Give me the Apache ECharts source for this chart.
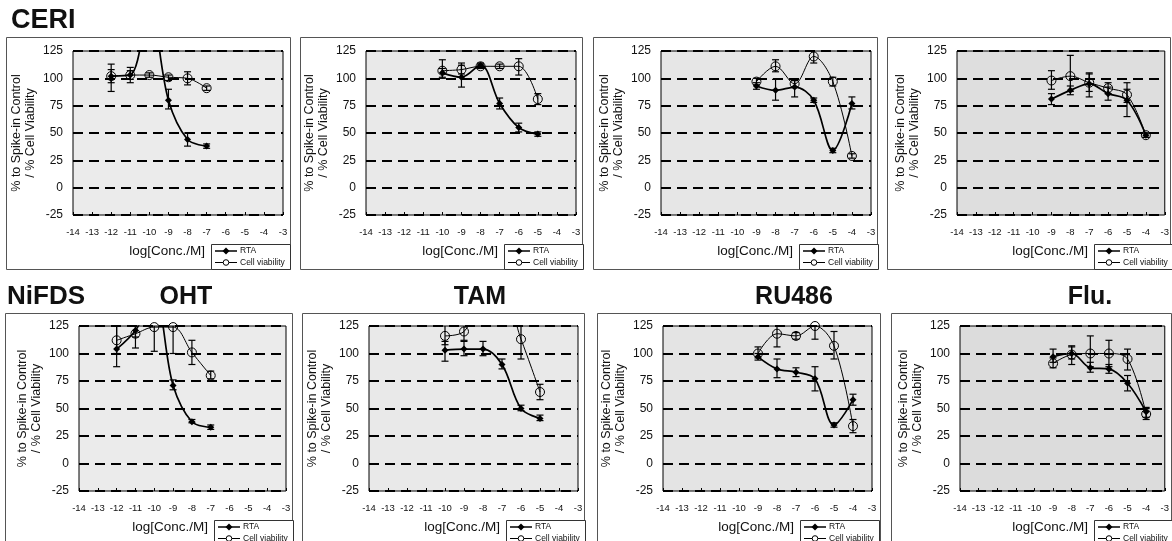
<!DOCTYPE html>
<html><head><meta charset="utf-8">
<script src="https://cdn.jsdelivr.net/npm/echarts@6/dist/echarts.min.js"></script>
<style>html,body{margin:0;padding:0;background:#fff}#c{width:1172px;height:541px}</style>
</head><body><div id="c"></div>
<script>
// ---------- DATA ----------
const xTicks = [-14, -3]; // axis range log[Conc./M]
const yTicks = [-25, 125];

// CERI - OHT
const ceriOhtConc = [-12, -11, -10, -9, -8, -7];
const ceriOhtRta = [102, 103, 165, 80, 44, 38];
const ceriOhtRtaLow = [88, 99, null, 72, 38, 36];
const ceriOhtRtaHigh = [113, 107, null, 90, 50, 40];
const ceriOhtCv = [102, 103, 103, 101, 100, 91];
const ceriOhtCvLow = [96, 96, 101, 98, 94, 89];
const ceriOhtCvHigh = [108, 110, 105, 103, 106, 93];

// CERI - TAM
const ceriTamConc = [-10, -9, -8, -7, -6, -5];
const ceriTamRta = [105, 101, 112, 77, 55, 49];
const ceriTamRtaLow = [101, 92, 110, 72, 51, 47];
const ceriTamRtaHigh = [109, 114, 114, 82, 59, 51];
const ceriTamCv = [107, 108, 111, 111, 111, 81];
const ceriTamCvLow = [100, 104, 109, 109, 103, 76];
const ceriTamCvHigh = [117, 112, 113, 113, 118, 86];

// CERI - RU486
const ceriRuConc = [-9, -8, -7, -6, -5, -4];
const ceriRuRta = [93, 89, 92, 80, 34, 77];
const ceriRuRtaLow = [90, 80, 83, 78, 32, 72];
const ceriRuRtaHigh = [96, 99, 98, 82, 36, 83];
const ceriRuCv = [97, 111, 95, 120, 97, 29];
const ceriRuCvLow = [94, 106, 92, 114, 93, 27];
const ceriRuCvHigh = [100, 117, 98, 126, 101, 31];

// CERI - Flu.
const ceriFluConc = [-9, -8, -7, -6, -5, -4];
const ceriFluRta = [81, 89, 95, 86, 80, 48];
const ceriFluRtaLow = [76, 85, 83, 80, 65, 46];
const ceriFluRtaHigh = [86, 93, 105, 92, 90, 50];
const ceriFluCv = [98, 102, 96, 91, 85, 48];
const ceriFluCvLow = [90, 88, 88, 86, 78, 46];
const ceriFluCvHigh = [107, 121, 104, 96, 96, 50];

// NiFDS - OHT
const nifOhtConc = [-12, -11, -10, -9, -8, -7];
const nifOhtRta = [104, 121, 150, 71, 38, 33];
const nifOhtRtaLow = [88, 115, null, 67, 37, 31];
const nifOhtRtaHigh = [125, 127, null, 76, 40, 35];
const nifOhtCv = [112, 118, 124, 124, 101, 80];
const nifOhtCvLow = [100, 105, 102, 100, 90, 77];
const nifOhtCvHigh = [125, 128, 146, 148, 112, 84];

// NiFDS - TAM
const nifTamConc = [-10, -9, -8, -7, -6, -5];
const nifTamRta = [103, 104, 104, 90, 50, 41];
const nifTamRtaLow = [93, 98, 98, 86, 48, 39];
const nifTamRtaHigh = [111, 111, 111, 95, 53, 44];
const nifTamCv = [116, 120, 150, 155, 113, 65];
const nifTamCvLow = [108, 112, null, null, 95, 58];
const nifTamCvHigh = [127, 128, null, null, 130, 72];

// NiFDS - RU486
const nifRuConc = [-9, -8, -7, -6, -5, -4];
const nifRuRta = [97, 86, 83, 77, 35, 58];
const nifRuRtaLow = [94, 78, 79, 66, 33, 53];
const nifRuRtaHigh = [100, 95, 87, 88, 37, 63];
const nifRuCv = [100, 118, 116, 125, 107, 34];
const nifRuCvLow = [96, 106, 113, 113, 95, 28];
const nifRuCvHigh = [106, 128, 119, 135, 120, 40];

// NiFDS - Flu.
const nifFluConc = [-9, -8, -7, -6, -5, -4];
const nifFluRta = [97, 100, 87, 86, 73, 47];
const nifFluRtaLow = [92, 95, 83, 82, 66, 42];
const nifFluRtaHigh = [104, 107, 92, 90, 80, 51];
const nifFluCv = [91, 99, 100, 100, 95, 45];
const nifFluCvLow = [87, 90, 88, 88, 85, 40];
const nifFluCvHigh = [96, 106, 116, 112, 104, 50];

const groupLabels = ['CERI', 'NiFDS'];
const compoundLabels = ['OHT', 'TAM', 'RU486', 'Flu.'];
const seriesNames = ['RTA', 'Cell viability'];
const xAxisTitle = 'log[Conc./M]';
const yAxisTitle = '% to Spike-in Control\n/ % Cell Viability';

// ---------- LAYOUT ----------
const FONT = 'Liberation Sans, Arial, sans-serif';
const panels = [
  {d:[ceriOhtConc, ceriOhtRta, ceriOhtRtaLow, ceriOhtRtaHigh, ceriOhtCv, ceriOhtCvLow, ceriOhtCvHigh], g:[73,51,283,215], box:[6,37,290,269], bg:'#ebebeb'},
  {d:[ceriTamConc, ceriTamRta, ceriTamRtaLow, ceriTamRtaHigh, ceriTamCv, ceriTamCvLow, ceriTamCvHigh], g:[366,51,576,215], box:[300,37,582,269], bg:'#e9e9e9'},
  {d:[ceriRuConc, ceriRuRta, ceriRuRtaLow, ceriRuRtaHigh, ceriRuCv, ceriRuCvLow, ceriRuCvHigh], g:[661,51,871,215], box:[593,37,877,269], bg:'#e6e6e6'},
  {d:[ceriFluConc, ceriFluRta, ceriFluRtaLow, ceriFluRtaHigh, ceriFluCv, ceriFluCvLow, ceriFluCvHigh], g:[957,51,1166,215], box:[887,37,1170,269], bg:'#dedede'},
  {d:[nifOhtConc, nifOhtRta, nifOhtRtaLow, nifOhtRtaHigh, nifOhtCv, nifOhtCvLow, nifOhtCvHigh], g:[79,326,286,491], box:[5,313,292,545], bg:'#ebebeb'},
  {d:[nifTamConc, nifTamRta, nifTamRtaLow, nifTamRtaHigh, nifTamCv, nifTamCvLow, nifTamCvHigh], g:[369,326,578,491], box:[302,313,584,545], bg:'#e9e9e9'},
  {d:[nifRuConc, nifRuRta, nifRuRtaLow, nifRuRtaHigh, nifRuCv, nifRuCvLow, nifRuCvHigh], g:[663,326,872,491], box:[597,313,880,545], bg:'#e4e4e4'},
  {d:[nifFluConc, nifFluRta, nifFluRtaLow, nifFluRtaHigh, nifFluCv, nifFluCvLow, nifFluCvHigh], g:[960,326,1166,491], box:[891,313,1171,545], bg:'#dcdcdc'}
];

const grids = [], xAxes = [], yAxes = [], series = [], graphics = [];

function errData(conc, lo, hi) {
  const out = [];
  conc.forEach((x, k) => { if (lo[k] != null && hi[k] != null) out.push([x, lo[k], hi[k]]); });
  return out;
}
function errRender(params, api) {
  const x = api.value(0);
  const a = api.coord([x, api.value(1)]);
  const b = api.coord([x, api.value(2)]);
  const w = 3.5;
  const st = {stroke:'#000', lineWidth:1.2};
  return {type:'group', children:[
    {type:'line', shape:{x1:a[0], y1:a[1], x2:b[0], y2:b[1]}, style:st},
    {type:'line', shape:{x1:a[0]-w, y1:a[1], x2:a[0]+w, y2:a[1]}, style:st},
    {type:'line', shape:{x1:b[0]-w, y1:b[1], x2:b[0]+w, y2:b[1]}, style:st}
  ]};
}

panels.forEach((p, i) => {
  const [conc, rta, rlo, rhi, cv, clo, chi] = p.d;
  grids.push({left:p.g[0], top:p.g[1], width:p.g[2]-p.g[0], height:p.g[3]-p.g[1],
    show:true, backgroundColor:p.bg, borderColor:'#000', borderWidth:1});
  xAxes.push({type:'value', gridIndex:i, min:xTicks[0], max:xTicks[1], interval:1, position:'bottom',
    axisLine:{show:false, onZero:false}, axisTick:{show:true, inside:true, length:3, lineStyle:{color:'#000'}},
    axisLabel:{fontSize:9.5, color:'#111', margin:12, fontFamily:FONT, showMinLabel:true, showMaxLabel:true},
    splitLine:{show:false}});
  yAxes.push({type:'value', gridIndex:i, min:yTicks[0], max:yTicks[1], interval:25,
    axisLine:{show:false, onZero:false}, axisTick:{show:false},
    axisLabel:{fontSize:12, color:'#111', margin:10, fontFamily:FONT},
    splitLine:{show:true, lineStyle:{color:'#000', type:[10,6], width:1.8}},
    name:yAxisTitle, nameLocation:'middle', nameRotate:90, nameGap:35,
    nameTextStyle:{fontSize:12.5, color:'#111', fontFamily:FONT, lineHeight:14}});
  series.push({type:'line', name:seriesNames[0], xAxisIndex:i, yAxisIndex:i,
    data:conc.map((x,k)=>[x, rta[k]]), smooth:0.35, clip:true,
    symbol:'diamond', symbolSize:7, itemStyle:{color:'#000'},
    lineStyle:{color:'#000', width:1.7}, z:4, animation:false});
  series.push({type:'line', name:seriesNames[1], xAxisIndex:i, yAxisIndex:i,
    data:conc.map((x,k)=>[x, cv[k]]), smooth:0.35, clip:true,
    symbol:'circle', symbolSize:9, itemStyle:{color:'rgba(0,0,0,0)', borderColor:'#000', borderWidth:1},
    lineStyle:{color:'#000', width:1}, z:4, animation:false});
  series.push({type:'custom', xAxisIndex:i, yAxisIndex:i, clip:true, z:3,
    data:errData(conc, rlo, rhi), renderItem:errRender, animation:false, silent:true});
  series.push({type:'custom', xAxisIndex:i, yAxisIndex:i, clip:true, z:3,
    data:errData(conc, clo, chi), renderItem:errRender, animation:false, silent:true});

  // outer panel frame
  graphics.push({type:'rect', z:-10, shape:{x:p.box[0]+0.5, y:p.box[1]+0.5, width:p.box[2]-p.box[0], height:p.box[3]-p.box[1]},
    style:{fill:'none', stroke:'#555', lineWidth:1}});
  // legend box
  const lx = p.g[2] - 72, ly = p.g[3] + 29;
  graphics.push({type:'group', x:lx, y:ly, z:10, children:[
    {type:'rect', shape:{x:0.5, y:0.5, width:79, height:25}, style:{fill:'#fff', stroke:'#333', lineWidth:1}},
    {type:'line', shape:{x1:4, y1:7, x2:26, y2:7}, style:{stroke:'#000', lineWidth:1.5}},
    {type:'polygon', shape:{points:[[15,3.5],[18.5,7],[15,10.5],[11.5,7]]}, style:{fill:'#000'}},
    {type:'text', style:{x:29, y:7, text:seriesNames[0], fontSize:8.5, fontFamily:FONT, fill:'#111', verticalAlign:'middle'}},
    {type:'line', shape:{x1:4, y1:18.5, x2:26, y2:18.5}, style:{stroke:'#000', lineWidth:1}},
    {type:'circle', shape:{cx:15, cy:18.5, r:2.8}, style:{fill:'#fff', stroke:'#000', lineWidth:1}},
    {type:'text', style:{x:29, y:18.5, text:seriesNames[1], fontSize:8.5, fontFamily:FONT, fill:'#111', verticalAlign:'middle'}}
  ]});
  // x axis title
  graphics.push({type:'text', z:10, style:{x:lx - 6, y:p.g[3] + 36, text:xAxisTitle, fontSize:13.5,
    fontFamily:FONT, fill:'#111', align:'right', verticalAlign:'middle'}});
});

// group / compound titles
graphics.push({type:'text', style:{x:11, y:21, text:groupLabels[0], font:'bold 27px Liberation Sans, Arial, sans-serif', fill:'#111', verticalAlign:'middle'}});
graphics.push({type:'text', style:{x:7, y:297, text:groupLabels[1], font:'bold 26px Liberation Sans, Arial, sans-serif', fill:'#111', verticalAlign:'middle'}});
const compoundX = [186, 480, 794, 1090];
compoundLabels.forEach((t, k) => {
  graphics.push({type:'text', style:{x:compoundX[k], y:297, text:t, font:'bold 25px Liberation Sans, Arial, sans-serif', fill:'#111', align:'center', verticalAlign:'middle'}});
});

const chart = echarts.init(document.getElementById('c'), null, {renderer:'canvas'});
chart.setOption({
  animation:false,
  backgroundColor:'#fff',
  grid:grids, xAxis:xAxes, yAxis:yAxes, series:series, graphic:graphics
});
</script>
</body></html>
